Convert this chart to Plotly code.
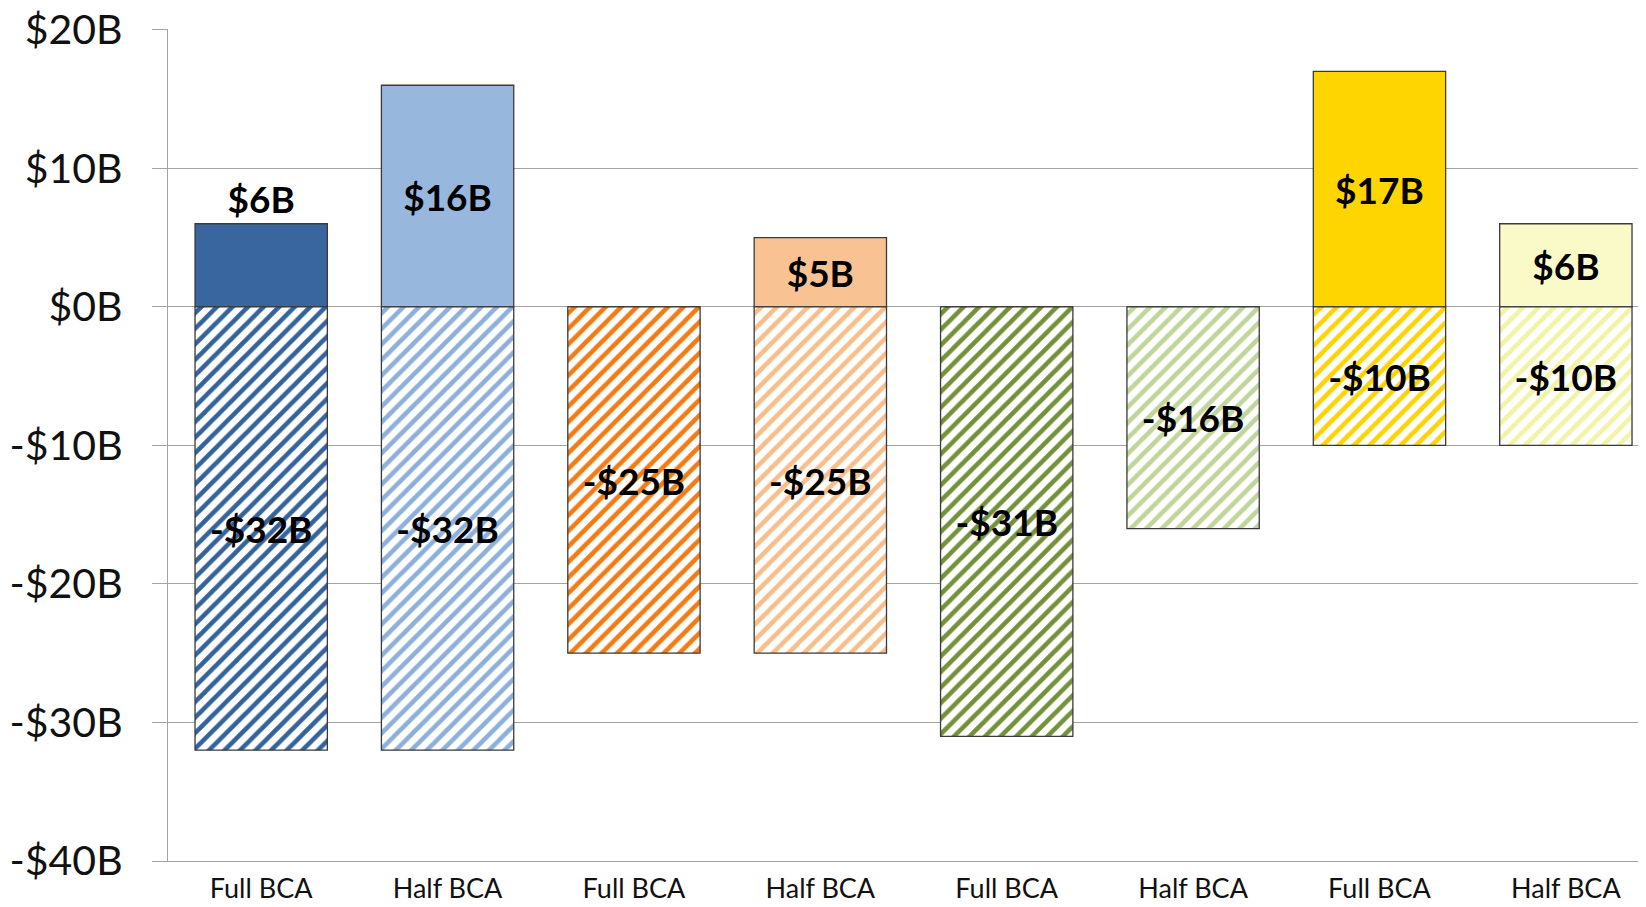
import plotly.graph_objects as go

# ---- data ----
categories = ["Full BCA", "Half BCA", "Full BCA", "Half BCA",
              "Full BCA", "Half BCA", "Full BCA", "Half BCA"]
positive_values = [6, 16, 0, 5, 0, 0, 17, 6]
negative_values = [-32, -32, -25, -25, -31, -16, -10, -10]
y_tick_values = [20, 10, 0, -10, -20, -30, -40]
y_tick_labels = ["$20B", "$10B", "$0B", "-$10B", "-$20B", "-$30B", "-$40B"]

# ---- styles ----
solid_colors = ["#3A66A0", "#98B7DD", "#F4811F", "#F9C293",
                "#77933C", "#C3D69B", "#FFD500", "#FAFAC8"]
hatch_colors = ["#34639C", "#8DB0DA", "#F47A12", "#F8BE8A",
                "#73913A", "#BFD59A", "#FFD300", "#F3F3A6"]


def fmt(v):
    if v == 0:
        return ""
    return f"-${abs(v)}B" if v < 0 else f"${v}B"


x_pos = list(range(len(categories)))
pos_text = [fmt(v) for v in positive_values]
neg_text = [fmt(v) for v in negative_values]
pos_textpos = ["outside" if i == 0 else "inside" for i in x_pos]

FONT = "Lato, 'Open Sans', sans-serif"
label_font = dict(family=FONT, size=37, color="black", weight="bold")

fig = go.Figure()
fig.add_trace(go.Bar(
    x=x_pos, y=positive_values,
    marker=dict(color=solid_colors, line=dict(color="#3a3a3a", width=1.3)),
    text=pos_text, textposition=pos_textpos, insidetextanchor="middle",
    textangle=0, constraintext="none", cliponaxis=False,
    textfont=label_font, outsidetextfont=label_font, insidetextfont=label_font,
    hoverinfo="skip", showlegend=False,
))
fig.add_trace(go.Bar(
    x=x_pos, y=negative_values,
    marker=dict(
        color="white",
        line=dict(color="#3a3a3a", width=1.3),
        pattern=dict(shape="/", fgcolor=hatch_colors, bgcolor="white",
                     size=11, solidity=0.42, fillmode="replace"),
    ),
    text=neg_text, textposition="inside", insidetextanchor="middle",
    textangle=0, constraintext="none",
    textfont=label_font, insidetextfont=label_font,
    hoverinfo="skip", showlegend=False,
))

fig.update_layout(
    width=1638, height=899,
    margin=dict(l=160, r=0, t=21, b=46),
    barmode="relative", bargap=0.29,
    plot_bgcolor="white", paper_bgcolor="white",
    font=dict(family=FONT, color="#111111"),
)
fig.update_yaxes(
    range=[-40, 20.06], tickvals=y_tick_values, ticktext=y_tick_labels,
    showgrid=True, gridcolor="#A3A3A3", gridwidth=1.3,
    zeroline=False, showline=True, linecolor="#A3A3A3", linewidth=1.3,
    ticks="outside", ticklen=15, tickcolor="#A3A3A3", tickwidth=1.3,
    tickfont=dict(size=41, color="#111111"), ticklabelstandoff=21,
    ticklabeloverflow="allow", automargin=False,
)
fig.update_xaxes(
    range=[-0.5, 7.43], tickvals=x_pos, ticktext=categories,
    showgrid=False, zeroline=False, showline=True, linecolor="#A3A3A3", linewidth=1.3,
    ticks="", tickfont=dict(size=27, color="#111111"), ticklabelstandoff=3,
    ticklabeloverflow="allow", automargin=False,
)

fig.write_html("out.html")
